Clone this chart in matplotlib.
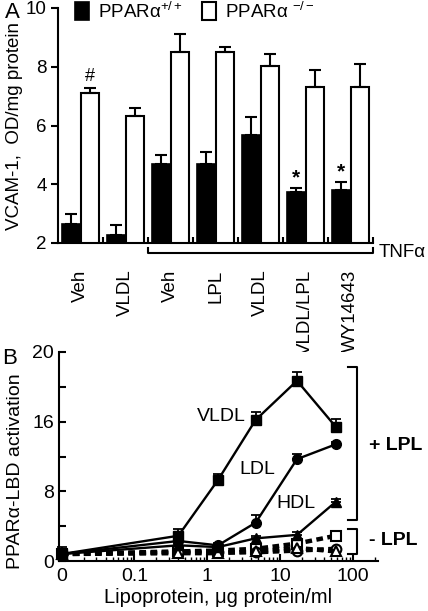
import matplotlib
matplotlib.use('Agg')
import matplotlib.pyplot as plt
import numpy as np

plt.rcParams.update({'font.family': ['Liberation Sans', 'DejaVu Sans'],
                     'mathtext.fontset': 'custom',
                     'mathtext.rm': 'Liberation Sans',
                     'mathtext.it': 'Liberation Sans',
                     'font.size': 13.5,
                     'axes.linewidth': 1.5})

# ---------------- panel A: VCAM-1 ----------------
groups = ['Veh', 'VLDL', 'Veh', 'LPL', 'VLDL', 'VLDL/LPL', 'WY14643']
wt = [2.65, 2.27, 4.69, 4.69, 5.67, 3.75, 3.80]
wt_err = [0.35, 0.34, 0.31, 0.41, 0.63, 0.13, 0.29]
ko = [7.11, 6.32, 8.51, 8.51, 8.02, 7.30, 7.30]
ko_err = [0.16, 0.27, 0.59, 0.17, 0.43, 0.58, 0.81]
wt_star = [False, False, False, False, False, True, True]
ko_hash = [True, False, False, False, False, False, False]

# ---------------- panel B: PPARa-LBD activation ----------------
dose = [0, 0.4, 1.4, 4.6, 17, 58]
ZERO_POS = 0.01       # 로그축에서 "0" 이 찍히는 위치
vldl_lpl = [0.8, 2.9, 9.3, 16.2, 20.7, 15.4]
vldl_lpl_err = [0.8, 0.8, 0.7, 0.9, 1.0, 0.9]
ldl_lpl = [0.8, 2.3, 1.8, 4.4, 11.7, 13.4]
ldl_lpl_err = [0.3, 0.3, 0.3, 0.9, 0.6, 0.3]
hdl_lpl = [0.8, 1.8, 1.6, 2.6, 3.0, 6.8]
hdl_lpl_err = [0.3, 0.3, 0.3, 0.3, 0.3, 0.3]
vldl = [0.8, 1.1, 1.2, 1.4, 2.0, 2.9]
ldl = [0.8, 1.0, 1.0, 1.0, 1.2, 1.4]
hdl = [0.8, 0.9, 0.9, 1.1, 1.5, 1.1]

fig = plt.figure(figsize=(4.28, 6.11), dpi=100)

# ============================================================
# (A)
# ============================================================
axA = fig.add_axes([58/428, 1 - 243/611, 315/428, 235/611])
x = np.arange(len(groups))
w = 0.42
b1 = axA.bar(x - w/2, wt, w, color='k', edgecolor='k', lw=1.2, zorder=2)
b2 = axA.bar(x + w/2, ko, w, color='white', edgecolor='k', lw=1.5, zorder=2)
axA.errorbar(x - w/2, wt, yerr=[np.zeros(len(wt)), wt_err], fmt='none',
             ecolor='k', elinewidth=1.5, capsize=4, capthick=1.5, zorder=3)
axA.errorbar(x + w/2, ko, yerr=[np.zeros(len(ko)), ko_err], fmt='none',
             ecolor='k', elinewidth=1.5, capsize=4, capthick=1.5, zorder=3)
for i in range(len(groups)):
    if wt_star[i]:
        axA.text(x[i] - w/2, wt[i] + wt_err[i] + 0.02, '*', ha='center',
                 va='bottom', fontsize=15, fontweight='bold')
    if ko_hash[i]:
        axA.text(x[i] + w/2, ko[i] + ko_err[i] + 0.1, '#', ha='center',
                 va='bottom', fontsize=13)
axA.set_xlim(-0.5, 6.5); axA.set_ylim(2, 10)
axA.set_yticks([2, 4, 6, 8, 10])
axA.set_xticks(x)
axA.set_xticklabels(groups, rotation=90, va='top', ha='center')
axA.set_xticks(np.arange(0.5, 6.6, 1), minor=True)
axA.tick_params(axis='x', which='major', length=0, pad=19)
axA.tick_params(axis='x', which='minor', direction='in', length=4, width=1.5)
axA.tick_params(axis='y', direction='out', length=5, width=1.5, pad=3)
axA.spines[['top', 'right']].set_visible(False)
axA.set_ylabel('VCAM-1,  OD/mg protein')
axA.yaxis.set_label_coords(-0.11, 0.5)
# TNFa 괄호
axA.plot([1.5, 1.5, 6.5, 6.5], [1.83, 1.66, 1.66, 1.83], 'k-', lw=1.5,
         clip_on=False)
axA.text(6.62, 1.66, 'TNFα', ha='left', va='center', fontsize=13.5)
axA.legend([b1, b2], ['PPARα$^{+/+}$', 'PPARα $^{-/-}$'], ncol=2,
           frameon=False, loc='upper left', bbox_to_anchor=(0.03, 1.06),
           handlelength=0.75, handleheight=1.1, handletextpad=0.5,
           columnspacing=1.0, borderaxespad=0, fontsize=13.5)
fig.text(5/428, 1 - 12/611, 'A', fontsize=16, va='center', ha='left')

# ============================================================
# (B)
# ============================================================
axB = fig.add_axes([59/428, 1 - 561/611, 319/428, 209/611])
xd = np.array([ZERO_POS if d == 0 else d for d in dose])

def up(e):
    return [np.zeros(len(e)), e]

for y, e, m in [(vldl_lpl, vldl_lpl_err, 's'), (ldl_lpl, ldl_lpl_err, 'o'),
                (hdl_lpl, hdl_lpl_err, '^')]:
    axB.errorbar(xd, y, yerr=up(e), fmt='-' + m, color='k', mfc='k', mec='k',
                 ms=7, lw=1.7, elinewidth=1.3, capsize=3.5, capthick=1.3,
                 zorder=4, clip_on=False)
for y, m in [(vldl, 's'), (ldl, 'o'), (hdl, '^')]:
    axB.plot(xd, y, ls=(0, (1.5, 1.0)), lw=3.2, marker=m, color='k',
             mfc='white', mec='k', mew=1.5, ms=7, zorder=3, clip_on=False)

axB.set_xscale('log')
axB.set_xlim(0.0092, 220); axB.set_ylim(0, 24)
axB.set_xticks([0.01, 0.1, 1, 10, 100])
axB.set_xticklabels(['0', '0.1', '1', '10', '100'])
axB.set_yticks([0, 8, 16, 24])
axB.set_yticklabels(['0', '8', '16', '20'])
axB.set_yticks([4, 12, 20], minor=True)
axB.tick_params(axis='both', which='major', direction='in', length=5,
                width=1.5, labelsize=14)
axB.tick_params(axis='x', which='minor', direction='in', length=3, width=1)
axB.tick_params(axis='y', which='minor', direction='in', length=5, width=1.5)
axB.tick_params(axis='x', which='major', pad=5)
axB.spines[['top', 'right']].set_visible(False)
axB.set_ylabel('PPARα-LBD activation', fontsize=14)
axB.yaxis.set_label_coords(-0.11, 0.43)
axB.set_xlabel('Lipoprotein, μg protein/ml', labelpad=2, fontsize=14.5)

axB.text(1.56, 16.55, 'VLDL', ha='center', va='center', fontsize=14)
axB.text(4.84, 10.46, 'LDL', ha='center', va='center', fontsize=14)
axB.text(16.6, 6.55, 'HDL', ha='center', va='center', fontsize=14)

tr = matplotlib.transforms.blended_transform_factory(axB.transAxes,
                                                    axB.transData)
axB.plot([0.906, 0.934, 0.934, 0.906], [22.3, 22.3, 4.7, 4.7], 'k-', lw=1.5,
         transform=tr, clip_on=False)
axB.plot([0.906, 0.934, 0.934, 0.906], [3.7, 3.7, 0.8, 0.8], 'k-', lw=1.5,
         transform=tr, clip_on=False)
axB.text(0.972, 13.3, '+ LPL', transform=tr, ha='left', va='center',
         fontweight='bold', fontsize=14)
axB.text(0.972, 2.3, '- LPL', transform=tr, ha='left', va='center',
         fontweight='bold', fontsize=14)
fig.text(2/428, 1 - 359/611, 'B', fontsize=16, va='center', ha='left')

fig.savefig('out.png', dpi=100)
